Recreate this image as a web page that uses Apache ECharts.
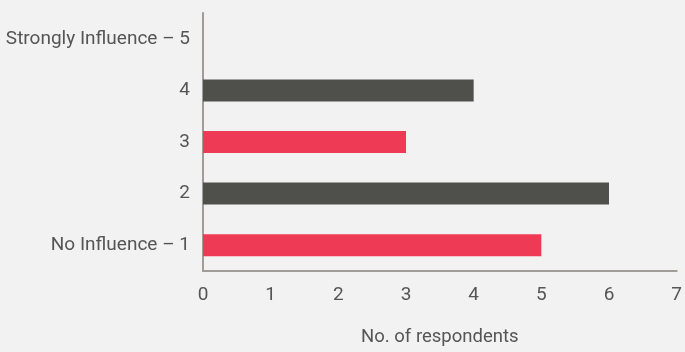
<!DOCTYPE html>
<html>
<head>
<meta charset="utf-8">
<script src="https://cdn.jsdelivr.net/npm/echarts@6/dist/echarts.min.js"></script>
<style>
html,body{margin:0;padding:0;background:#f2f2f2;}
#chart{width:685px;height:352px;}
</style>
</head>
<body>
<div id="chart"></div>
<script>
var categories = ["No Influence \u2013 1", "2", "3", "4", "Strongly Influence \u2013 5"];
var values = [5, 6, 3, 4, null];
var barColors = ["#ef3a55", "#4f504b", "#ef3a55", "#4f504b", "#ef3a55"];
var xTicks = [0, 1, 2, 3, 4, 5, 6, 7];
var xAxisTitle = "No. of respondents";

var FONT = "Roboto, sans-serif";
var chart = echarts.init(document.getElementById('chart'), null, {renderer: 'canvas'});
chart.setOption({
  backgroundColor: '#f2f2f2',
  animation: false,
  grid: {left: 203, right: 5, top: 13, bottom: 78, containLabel: false},
  xAxis: {
    type: 'value', min: xTicks[0], max: xTicks[xTicks.length - 1], interval: 1,
    name: xAxisTitle, nameLocation: 'middle', nameGap: 57,
    nameTextStyle: {color: '#555', fontSize: 18.5, fontFamily: FONT},
    axisLine: {show: true, lineStyle: {color: '#a09c98', width: 2}},
    axisTick: {show: false},
    splitLine: {show: false},
    axisLabel: {color: '#555', fontSize: 19, fontFamily: FONT, margin: 15}
  },
  yAxis: {
    type: 'category', data: categories,
    axisLine: {show: true, lineStyle: {color: '#a09c98', width: 2}},
    axisTick: {show: false},
    axisLabel: {color: '#555', fontSize: 19, fontFamily: FONT, margin: 13}
  },
  series: [{
    type: 'bar', barWidth: 22,
    data: values.map(function (v, i) { return {value: v, itemStyle: {color: barColors[i]}}; })
  }]
});
</script>
</body>
</html>
